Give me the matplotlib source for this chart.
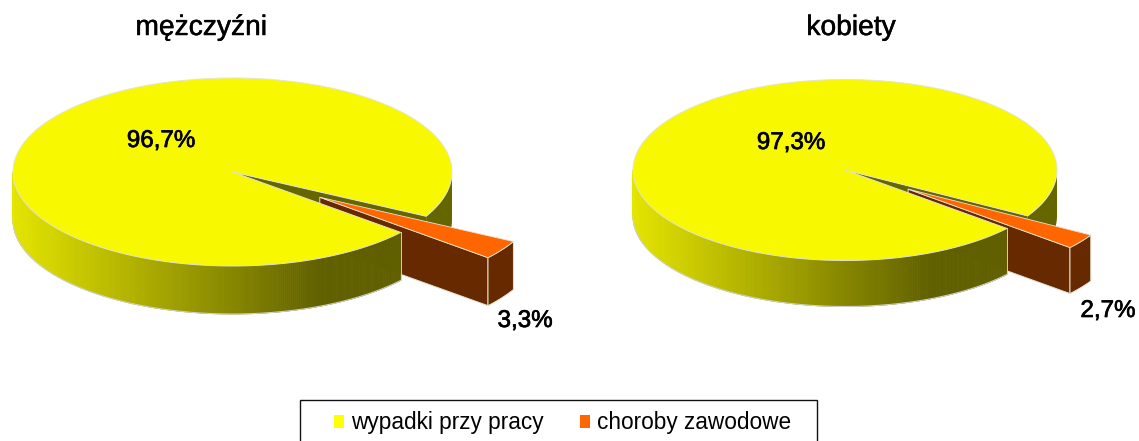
import numpy as np
import matplotlib
matplotlib.use("Agg")
import matplotlib.pyplot as plt
import matplotlib.patheffects as pe
from matplotlib.patches import Polygon, Rectangle, Patch
from matplotlib.collections import PolyCollection

categories = ["wypadki przy pracy", "choroby zawodowe"]
groups = ["mężczyźni", "kobiety"]
men_values = [96.7, 3.3]
women_values = [97.3, 2.7]
men_labels = ["96,7%", "3,3%"]
women_labels = ["97,3%", "2,7%"]

W, H = 1139, 441
YELLOW, ORANGE, BROWN, OLIVE = "#F8F800", "#FF6600", "#662900", "#666600"
EDGE = "#E4E4D0"
FONT = "Liberation Sans"

plt.rcParams["font.family"] = FONT
fig = plt.figure(figsize=(W / 100, H / 100), dpi=100)
ax = fig.add_axes([0, 0, 1, 1])
ax.set_xlim(0, W)
ax.set_ylim(H, 0)
ax.axis("off")


def wall_color(x, x0, rx):
    t = np.clip((x - x0) / (1.4 * rx), 0, 1)
    v = (228 + (96 - 228) * t) / 255
    return (v, v, 0)


def ell(cx, cy, rx, ry, a):
    a = np.radians(a)
    return np.column_stack([cx + rx * np.cos(a), cy + ry * np.sin(a)])


def solid(pts, depth, color, z, edge=EDGE, lw=0.7):
    low = pts[::-1] + [0, depth]
    ax.add_patch(Polygon(np.vstack([pts, low]), closed=True, fc=color, ec=edge, lw=lw, zorder=z))


def pie3d(values, cx, cy, rx, ry, depth, a0, expl):
    sweep = values[1] * 3.6
    a1 = a0 + sweep
    mid = np.radians((a0 + a1) / 2)
    ox, oy = cx + expl * rx * np.cos(mid), cy + expl * ry * np.sin(mid)

    # cut face of the large slice seen through the notch
    solid(np.vstack([[cx, cy], ell(cx, cy, rx, ry, [a0])]), depth, OLIVE, 1, edge="none")
    # right-hand rim of the large slice
    solid(ell(cx, cy, rx, ry, np.linspace(0, a0, 40)), depth, OLIVE, 2, edge="none")
    # exploded slice
    solid(np.vstack([[ox, oy], ell(ox, oy, rx, ry, [a1])]), depth, BROWN, 3)
    arc = ell(ox, oy, rx, ry, np.linspace(a0, a1, 20))
    solid(arc, depth, BROWN, 3)
    ax.add_patch(Polygon(np.vstack([[ox, oy], arc]), closed=True, fc=ORANGE, ec=EDGE, lw=0.6, zorder=4))

    # front rim with gradient
    ang = np.linspace(a1, 180, 260)
    top = ell(cx, cy, rx, ry, ang)
    strips, cols = [], []
    for p, q in zip(top[:-1], top[1:]):
        strips.append([p, q, q + [0, depth], p + [0, depth]])
        cols.append(wall_color((p[0] + q[0]) / 2, cx - rx, rx))
    ax.add_collection(PolyCollection(strips, facecolors=cols, edgecolors=cols, linewidths=0.6, zorder=5))
    bottom = top + [0, depth]
    ax.plot(bottom[:, 0], bottom[:, 1], color="#D0D0C4", lw=0.8, zorder=6)
    ax.plot([top[0, 0], bottom[0, 0]], [top[0, 1], bottom[0, 1]], color="#D0D0C4", lw=0.7, zorder=6)
    ax.plot([cx - rx] * 2, [cy, cy + depth], color="#D0D0C4", lw=0.7, zorder=6)

    # top of the large slice
    big = ell(cx, cy, rx, ry, np.linspace(a1, a0 + 360, 400))
    ax.add_patch(Polygon(np.vstack([[cx, cy], big]), closed=True, fc=YELLOW, ec=EDGE, lw=0.7, zorder=7))


pie3d(men_values, 232.5, 172, 219.5, 94, 48, 28.1, 0.48)
pie3d(women_values, 845, 170, 212, 90.5, 46, 30.5, 0.365)

thin = [pe.withStroke(linewidth=0.35, foreground="black")]
stroke = [pe.withStroke(linewidth=0.5, foreground="black")]
ax.text(201.5, 28, groups[0], ha="center", va="center", fontsize=20.3, zorder=9, path_effects=thin)
ax.text(851, 28, groups[1], ha="center", va="center", fontsize=20.3, zorder=9, path_effects=thin)
for x, y, s in [(161, 141, men_labels[0]), (525, 321, men_labels[1]),
                (791, 143, women_labels[0]), (1108, 311, women_labels[1])]:
    ax.text(x, y, s, ha="center", va="center", fontsize=17.4, zorder=9, path_effects=stroke)

ax.add_patch(Rectangle((300, 399.5), 517, 60, fc="white", ec="#111111", lw=1, zorder=8))
ax.legend(
    handles=[Patch(fc="#FFFF00", ec="none", label=categories[0]),
             Patch(fc=ORANGE, ec="none", label=categories[1])],
    loc="center", bbox_to_anchor=(562.5 / W, 1 - 423 / H), ncol=2, frameon=False,
    fontsize=16.3, handlelength=0.45, handleheight=0.45, handletextpad=0.32,
    columnspacing=1.6, borderpad=0,
).set_zorder(10)

fig.savefig("out.png", dpi=100)
